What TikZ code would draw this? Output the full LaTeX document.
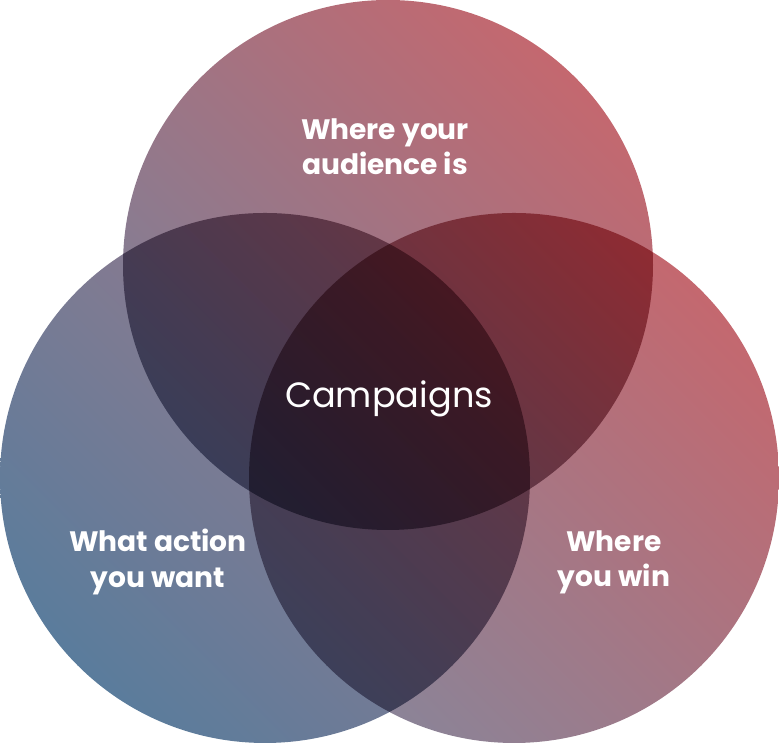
\documentclass[tikz,border=0pt]{standalone}
\usepackage{fontspec}
\setmainfont{Poppins}
\usetikzlibrary{positioning}
\definecolor{roseA}{HTML}{C4686F}
\definecolor{mauveA}{HTML}{8A8498}
\definecolor{greyA}{HTML}{7C8098}
\definecolor{blueA}{HTML}{5A7C9C}
\definecolor{mauveB}{HTML}{A07888}
\tikzset{
  ring/.style 2 args={shading=axis,left color=#1,right color=#2,shading angle=135},
  label/.style={text=white,font=\fontsize{16}{20}\selectfont\bfseries,align=center}
}
\begin{document}
\begin{tikzpicture}[x=0.02cm,y=0.02cm]
\useasboundingbox (0,0) rectangle (779,743);

\coordinate (top) at (388,478);
\coordinate (lft) at (265,265);
\coordinate (rgt) at (514,265);

\begin{scope}[blend group=multiply]
\path[ring={greyA}{roseA}] (top) circle (265);
\path[ring={blueA}{mauveB!90!mauveA}] (lft) circle (265);
\path[ring={mauveA}{roseA}] (rgt) circle (265);
\end{scope}

\node[label] (aud) at (385,596) {Where your\\audience is};
\node[label] (act) at (158,181) {What action\\you want};
\node[label] (win) at (614,181) {Where\\you win};
\node[text=white,font=\fontsize{20}{24}\selectfont] (camp) at (389,344) {Campaigns};
\end{tikzpicture}
\end{document}
